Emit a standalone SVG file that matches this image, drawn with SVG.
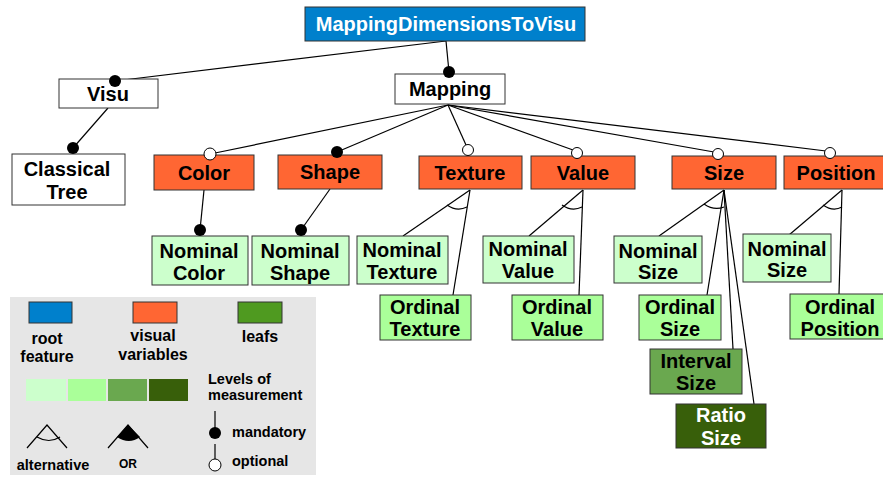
<svg xmlns="http://www.w3.org/2000/svg" width="883" height="479" viewBox="0 0 883 479">
<style>
text{font-family:"Liberation Sans",Arial,sans-serif;font-weight:bold;text-anchor:middle;fill:#000}
.n{font-size:20px}
.box{stroke:#333;stroke-width:1}
.w{fill:#fff}
.o{fill:#ff6633}
.l1{fill:#ccffcc}
.l2{fill:#aaff99}
.l3{fill:#6aa84f}
.l4{fill:#385f0a}
.ln{stroke:#000;stroke-width:1.2;fill:none}
.md{fill:#000}
.op{fill:#fff;stroke:#000;stroke-width:1}
.lg{font-size:16px}
.s{font-size:14.5px;text-anchor:start}
</style>
<rect width="883" height="479" fill="#fff"/>
<g id="connectors">
<line class="ln" x1="446" y1="41" x2="115" y2="81"/>
<line class="ln" x1="446" y1="41" x2="449" y2="72"/>
<line class="ln" x1="108" y1="108" x2="73" y2="148"/>
<line class="ln" x1="448" y1="105" x2="215" y2="153"/>
<line class="ln" x1="448" y1="105" x2="337" y2="152"/>
<line class="ln" x1="448" y1="105" x2="466" y2="145"/>
<line class="ln" x1="448" y1="105" x2="573" y2="150"/>
<line class="ln" x1="448" y1="105" x2="714" y2="152"/>
<line class="ln" x1="448" y1="105" x2="826" y2="151"/>
<line class="ln" x1="204" y1="190" x2="200" y2="230"/>
<line class="ln" x1="330" y1="189" x2="301" y2="230"/>
<line class="ln" x1="470" y1="190" x2="403" y2="236"/>
<line class="ln" x1="470" y1="190" x2="453" y2="295"/>
<path class="ln" d="M447 205 Q457 212 467 207"/>
<line class="ln" x1="583" y1="190" x2="529" y2="236"/>
<line class="ln" x1="583" y1="190" x2="579" y2="295"/>
<path class="ln" d="M562 205 Q572 212 582 207"/>
<line class="ln" x1="724" y1="190" x2="659" y2="236"/>
<line class="ln" x1="724" y1="190" x2="707" y2="295"/>
<line class="ln" x1="724" y1="190" x2="733" y2="349"/>
<line class="ln" x1="724" y1="190" x2="754" y2="404"/>
<path class="ln" d="M704 204 Q714 211 724 207"/>
<line class="ln" x1="842" y1="190" x2="789" y2="235"/>
<line class="ln" x1="842" y1="190" x2="839" y2="294"/>
<path class="ln" d="M823 205 Q833 212 842 207"/>
</g>
<g id="root">
<rect class="box" x="305" y="7" width="280" height="34" fill="#0080cc"/>
<text class="n" x="446" y="31" style="fill:#fff">MappingDimensionsToVisu</text>
</g>
<g id="visu">
<rect class="box w" x="59" y="79" width="99" height="29"/>
<text class="n" x="108" y="101">Visu</text>
<circle class="md" cx="115" cy="81" r="6"/>
</g>
<g id="mapping">
<rect class="box w" x="395" y="74" width="110" height="30"/>
<text class="n" x="450" y="96">Mapping</text>
<circle class="md" cx="449" cy="72" r="6"/>
</g>
<g id="classicaltree">
<rect class="box w" x="12" y="154" width="113" height="51"/>
<text class="n" x="67" y="176">Classical</text>
<text class="n" x="67" y="199">Tree</text>
<circle class="md" cx="73" cy="148" r="6"/>
</g>
<g id="color">
<rect class="box o" x="154" y="155" width="100" height="35"/>
<text class="n" x="204" y="180">Color</text>
<circle class="op" cx="210" cy="154" r="6"/>
</g>
<g id="shape">
<rect class="box o" x="278" y="155" width="104" height="34"/>
<text class="n" x="330" y="179">Shape</text>
<circle class="md" cx="337" cy="152" r="6"/>
</g>
<g id="texture">
<rect class="box o" x="419" y="156" width="103" height="33"/>
<text class="n" x="470" y="180">Texture</text>
<circle class="op" cx="468" cy="150" r="5.5"/>
</g>
<g id="value">
<rect class="box o" x="531" y="156" width="104" height="33"/>
<text class="n" x="583" y="180">Value</text>
<circle class="op" cx="577" cy="153" r="5.5"/>
</g>
<g id="size">
<rect class="box o" x="672" y="156" width="104" height="33"/>
<text class="n" x="724" y="180">Size</text>
<circle class="op" cx="718" cy="154" r="5.5"/>
</g>
<g id="position">
<rect class="box o" x="784" y="156" width="104" height="33"/>
<text class="n" x="836" y="180">Position</text>
<circle class="op" cx="830" cy="153" r="5.5"/>
</g>
<g id="nominalcolor">
<rect class="box l1" x="152" y="236" width="96" height="49"/>
<text class="n" x="199" y="258">Nominal</text>
<text class="n" x="199" y="280">Color</text>
<circle class="md" cx="200" cy="230" r="6"/>
</g>
<g id="nominalshape">
<rect class="box l1" x="252" y="236" width="97" height="49"/>
<text class="n" x="300" y="258">Nominal</text>
<text class="n" x="300" y="280">Shape</text>
<circle class="md" cx="301" cy="230" r="6"/>
</g>
<g id="nominaltexture">
<rect class="box l1" x="357" y="236" width="91" height="48"/>
<text class="n" x="402" y="257">Nominal</text>
<text class="n" x="402" y="279">Texture</text>
</g>
<g id="ordinaltexture">
<rect class="box l2" x="380" y="295" width="91" height="45"/>
<text class="n" x="425" y="314">Ordinal</text>
<text class="n" x="425" y="336">Texture</text>
</g>
<g id="nominalvalue">
<rect class="box l1" x="483" y="236" width="91" height="47"/>
<text class="n" x="528" y="256">Nominal</text>
<text class="n" x="528" y="278">Value</text>
</g>
<g id="ordinalvalue">
<rect class="box l2" x="512" y="295" width="91" height="45"/>
<text class="n" x="557" y="314">Ordinal</text>
<text class="n" x="557" y="336">Value</text>
</g>
<g id="nominalsize">
<rect class="box l1" x="614" y="236" width="88" height="47"/>
<text class="n" x="658" y="258">Nominal</text>
<text class="n" x="658" y="279">Size</text>
</g>
<g id="ordinalsize">
<rect class="box l2" x="639" y="295" width="82" height="45"/>
<text class="n" x="680" y="314">Ordinal</text>
<text class="n" x="680" y="336">Size</text>
</g>
<g id="intervalsize">
<rect class="box l3" x="650" y="349" width="92" height="45"/>
<text class="n" x="696" y="368">Interval</text>
<text class="n" x="696" y="390">Size</text>
</g>
<g id="ratiosize">
<rect class="box l4" x="676" y="404" width="90" height="44"/>
<text class="n" x="721" y="422" style="fill:#fff">Ratio</text>
<text class="n" x="721" y="445" style="fill:#fff">Size</text>
</g>
<g id="nominalsize2">
<rect class="box l1" x="743" y="234" width="88" height="48"/>
<text class="n" x="787" y="256">Nominal</text>
<text class="n" x="787" y="277">Size</text>
</g>
<g id="ordinalposition">
<rect class="box l2" x="790" y="294" width="96" height="45"/>
<text class="n" x="840" y="314">Ordinal</text>
<text class="n" x="840" y="336">Position</text>
</g>
<g id="legend">
<rect x="10" y="297" width="306" height="178" fill="#e6e6e6"/>
<rect class="box" x="29" y="302" width="43" height="21" fill="#0080cc"/>
<rect class="box o" x="133" y="302" width="44" height="21"/>
<rect class="box" x="238" y="302" width="44" height="21" fill="#4f9a20"/>
<text class="lg" x="47" y="344">root</text>
<text class="lg" x="47" y="362">feature</text>
<text class="lg" x="153" y="341">visual</text>
<text class="lg" x="153" y="360">variables</text>
<text class="lg" x="260" y="342">leafs</text>
<rect class="l1" x="26" y="379" width="40" height="22"/>
<rect class="l2" x="68" y="379" width="38" height="22"/>
<rect class="l3" x="108" y="379" width="39" height="22"/>
<rect class="l4" x="149" y="379" width="39" height="22"/>
<text class="s" x="208" y="384">Levels of</text>
<text class="s" x="208" y="400">measurement</text>
<line class="ln" x1="215" y1="411" x2="215" y2="428"/>
<circle class="md" cx="215" cy="433" r="6"/>
<text class="s" x="232" y="437">mandatory</text>
<line class="ln" x1="215" y1="444" x2="215" y2="459"/>
<circle class="op" cx="215" cy="465" r="6"/>
<text class="s" x="232" y="466">optional</text>
<path class="ln" d="M27 448 L47 425 L67 448"/>
<path class="ln" d="M37 437 Q49 444 60 437"/>
<text x="53" y="470" style="font-size:14.5px">alternative</text>
<path class="ln" d="M108 448 L128 425 L148 448"/>
<path d="M128 425 L117 437 Q129 445 140 437 Z" fill="#000"/>
<text x="128" y="468" style="font-size:12px">OR</text>
</g>
</svg>
